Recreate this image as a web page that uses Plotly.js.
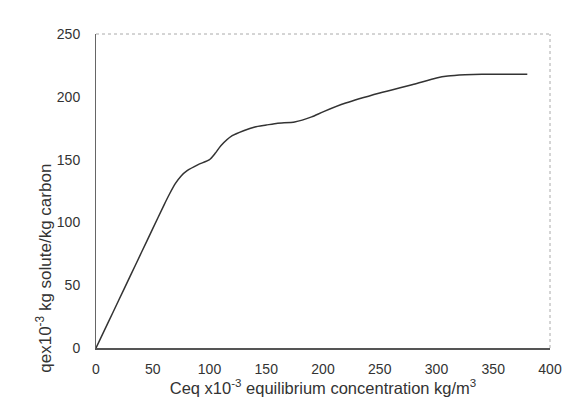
<!DOCTYPE html>
<html>
<head>
<meta charset="utf-8">
<script src="https://cdn.plot.ly/plotly-3.0.1.min.js"></script>
<style>html,body{margin:0;padding:0;background:#fff;}#chart{width:574px;height:403px;}</style>
</head>
<body>
<div id="chart"></div>
<script>
const ceq = [0, 10, 20, 30, 40, 50, 60, 65, 70, 75, 80, 90, 100, 105, 110, 120, 130, 140, 150, 160, 175, 190, 200, 220, 250, 280, 300, 310, 325, 340, 360, 380];
const qe  = [0, 19, 38, 57, 76, 95, 114, 123, 131, 137, 141, 146, 150, 155, 161, 169, 173, 176, 177.5, 179, 180, 184, 188, 195, 203, 210, 215, 216.5, 217.5, 218, 218, 218];
const xTicks = [0, 50, 100, 150, 200, 250, 300, 350, 400];
const yTicks = [0, 50, 100, 150, 200, 250];
const xTitle = 'Ceq x10<sup>-3</sup> equilibrium concentration kg/m<sup>3</sup>';
const yTitle = 'qex10<sup>-3</sup> kg solute/kg carbon';

const trace = {
  x: ceq, y: qe, type: 'scatter', mode: 'lines',
  line: {color: '#333333', width: 1.5, shape: 'spline', smoothing: 0.6},
  hoverinfo: 'skip'
};

const layout = {
  width: 574, height: 403,
  margin: {l: 96, r: 24, t: 34, b: 55},
  paper_bgcolor: '#ffffff', plot_bgcolor: '#ffffff',
  font: {family: '"Liberation Sans", Arial, sans-serif', size: 14, color: '#333333'},
  showlegend: false,
  xaxis: {
    range: [0, 400], tickvals: xTicks, ticktext: xTicks.map(String),
    showgrid: false, zeroline: false,
    showline: true, linecolor: '#555555', linewidth: 1.5,
    ticks: 'outside', ticklen: 0, ticklabelstandoff: 8,
    tickfont: {size: 14},
    title: {text: xTitle, font: {size: 16.5, color: '#333333'}, standoff: 0}
  },
  yaxis: {
    range: [0, 250], tickvals: yTicks, ticktext: yTicks.map(String),
    showgrid: false, zeroline: false,
    showline: true, linecolor: '#666666', linewidth: 1,
    ticks: 'outside', ticklen: 0, ticklabelstandoff: 12,
    tickfont: {size: 14}
  },
  annotations: [
    {text: yTitle, xref: 'paper', yref: 'paper', x: -0.115, y: 0.255,
     xanchor: 'center', yanchor: 'middle', textangle: -90, showarrow: false,
     font: {size: 17, color: '#333333'}}
  ],
  shapes: [
    {type: 'line', xref: 'paper', yref: 'paper', x0: 0, x1: 1, y0: 1, y1: 1, line: {color: '#aaaaaa', width: 1, dash: 'dot'}},
    {type: 'line', xref: 'paper', yref: 'paper', x0: 1, x1: 1, y0: 0, y1: 1, line: {color: '#aaaaaa', width: 1, dash: 'dot'}}
  ]
};

Plotly.newPlot('chart', [trace], layout, {displayModeBar: false, staticPlot: true});
</script>
</body>
</html>
